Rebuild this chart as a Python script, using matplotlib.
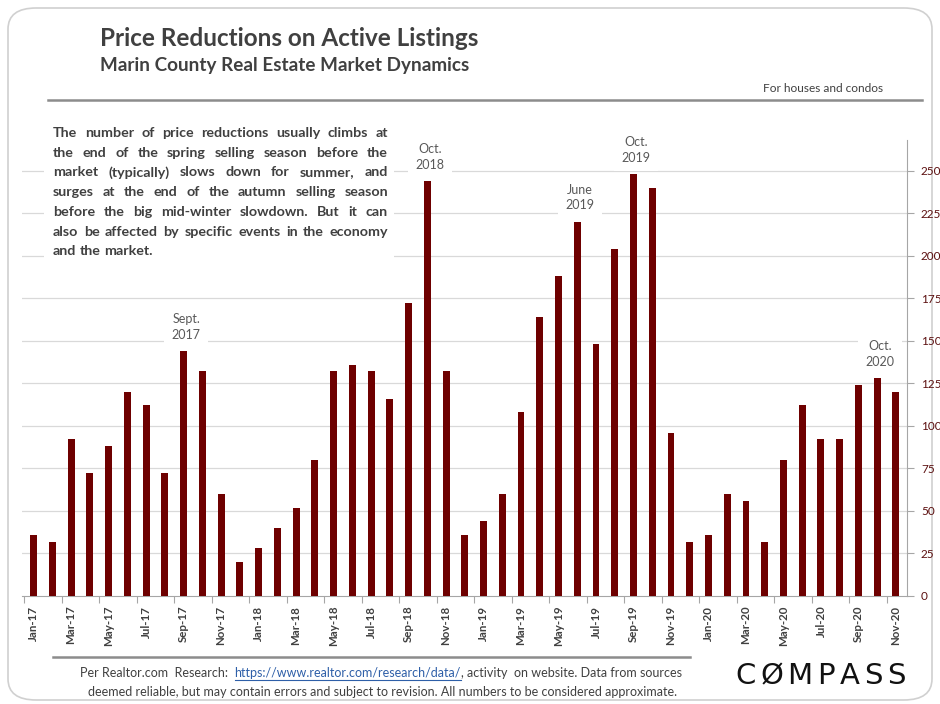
import matplotlib
matplotlib.use("Agg")
import matplotlib.pyplot as plt
from matplotlib.patches import FancyBboxPatch, Rectangle
from matplotlib.lines import Line2D

# ------------------------------------------------------------------ #
#  Data                                                                #
# ------------------------------------------------------------------ #

months = [
    "Jan-17", "Feb-17", "Mar-17", "Apr-17", "May-17", "Jun-17", "Jul-17", "Aug-17",
    "Sep-17", "Oct-17", "Nov-17", "Dec-17",
    "Jan-18", "Feb-18", "Mar-18", "Apr-18", "May-18", "Jun-18", "Jul-18", "Aug-18",
    "Sep-18", "Oct-18", "Nov-18", "Dec-18",
    "Jan-19", "Feb-19", "Mar-19", "Apr-19", "May-19", "Jun-19", "Jul-19", "Aug-19",
    "Sep-19", "Oct-19", "Nov-19", "Dec-19",
    "Jan-20", "Feb-20", "Mar-20", "Apr-20", "May-20", "Jun-20", "Jul-20", "Aug-20",
    "Sep-20", "Oct-20", "Nov-20",
]

reductions = [
    36, 32, 92, 72, 88, 120, 112, 72, 144, 132, 60, 20,
    28, 40, 52, 80, 132, 136, 132, 116, 172, 244, 132, 36,
    44, 60, 108, 164, 188, 220, 148, 204, 248, 240, 96, 32,
    36, 60, 56, 32, 80, 112, 92, 92, 124, 128, 120,
]

# callouts: (bar index, text)
callouts = [
    (8, "Sept.\n2017"),
    (21, "Oct.\n2018"),
    (29, "June\n2019"),
    (32, "Oct.\n2019"),
    (45, "Oct.\n2020"),
]

y_ticks = [0, 25, 50, 75, 100, 125, 150, 175, 200, 225, 250]

intro = [
    "The number of price reductions usually climbs at",
    "the end of the spring selling season before the",
    "market (typically) slows down for summer, and",
    "surges at the end of the autumn selling season",
    "before the big mid-winter slowdown. But it can",
    "also be affected by specific events in the economy",
    "and the market.",
]

BAR = "#6e0000"
GREY_TXT = "#404040"
GRID = "#d9d9d9"

W, H = 940, 704


def fx(x):
    return x / W


def fy(y):
    return 1 - y / H


plt.rcParams["font.family"] = ["Lato", "DejaVu Sans"]

fig = plt.figure(figsize=(W / 100, H / 100), dpi=100)
fig.patch.set_facecolor("white")

# card border
card = FancyBboxPatch((fx(8), fy(700)), fx(924), fy(8) - fy(700), boxstyle="round,pad=0,rounding_size=0.03",
                      transform=fig.transFigure, facecolor="none", edgecolor="#d0d0d0", lw=1.2, zorder=-1)
fig.patches.append(card)

# ------------------------------------------------------------------ #
#  Bars                                                                #
# ------------------------------------------------------------------ #

ax = fig.add_axes([fx(22), fy(596), fx(907) - fx(22), fy(140) - fy(596)])
ax.set_facecolor("none")
x = list(range(len(months)))
ax.bar(x, reductions, width=0.37, color=BAR, zorder=3)

ax.set_xlim(-0.62, len(months) - 1 + 0.59)
ax.set_ylim(0, 268)

ax.yaxis.tick_right()
ax.set_yticks(y_ticks)
ax.set_yticklabels([str(v) for v in y_ticks], color="#5c1010", fontsize=8.5)
ax.tick_params(axis="y", length=5, width=0.8, color="#a6a6a6", pad=5)
for v in y_ticks[1:]:
    ax.axhline(v, color=GRID, lw=0.9, zorder=1)

ax.set_xticks(x[::2])
ax.set_xticklabels(months[::2], rotation=90, fontsize=8.3, color=GREY_TXT, fontweight="bold")
ax.set_xticks([i - 0.5 for i in range(0, len(months) + 1, 2)], minor=True)
ax.tick_params(axis="x", which="major", length=0, pad=7)
ax.tick_params(axis="x", which="minor", length=5, width=0.8, color="#a6a6a6")

for side in ["top", "left"]:
    ax.spines[side].set_visible(False)
ax.spines["right"].set_color("#a6a6a6")
ax.spines["bottom"].set_color("#a6a6a6")

for i, label in callouts:
    ax.text(i + 0.15, reductions[i] + 6, label, ha="center", va="bottom", fontsize=9,
            color="#595959", linespacing=1.35, zorder=4,
            bbox=dict(boxstyle="square,pad=0.6", fc="white", ec="none"))

# ------------------------------------------------------------------ #
#  Titles and text                                                     #
# ------------------------------------------------------------------ #

fig.text(fx(100), fy(38), "Price Reductions on Active Listings", fontsize=17.5, fontweight="bold",
         color=GREY_TXT, va="center", ha="left")
fig.text(fx(100), fy(66), "Marin County Real Estate Market Dynamics", fontsize=13.6, fontweight="bold",
         color=GREY_TXT, va="center", ha="left")
fig.text(fx(883), fy(88), "For houses and condos", fontsize=8.6, color=GREY_TXT, va="center", ha="right")
fig.add_artist(Line2D([fx(48), fx(922)], [fy(100), fy(100)], transform=fig.transFigure,
                      color="#8c8c8c", lw=1.8))

# intro paragraph on a white panel, justified by hand
fig.add_artist(Rectangle((fx(44), fy(268)), fx(350), fy(124) - fy(268), transform=fig.transFigure,
                         facecolor="white", edgecolor="none", zorder=2))
fig.canvas.draw()
r = fig.canvas.get_renderer()
left, right = 53, 388
for k, line in enumerate(intro):
    yy = fy(133 + k * 19.7)
    words = line.split(" ")
    arts = [fig.text(0, yy, w, fontsize=10.3, fontweight="bold", color=GREY_TXT, va="center",
                     ha="left", zorder=3) for w in words]
    widths = [a.get_window_extent(r).width for a in arts]
    if k == len(intro) - 1:
        gap = 3.5
    else:
        gap = (right - left - sum(widths)) / (len(words) - 1)
    pos = left
    for a, wd in zip(arts, widths):
        a.set_x(fx(pos))
        pos += wd + gap

# footer
fig.add_artist(Line2D([fx(53), fx(690)], [fy(657), fy(657)], transform=fig.transFigure,
                      color="#8c8c8c", lw=1.8))
t1 = fig.text(fx(80), fy(673), "Per Realtor.com  Research:  ", fontsize=9, color=GREY_TXT, va="center", ha="left")
bb = t1.get_window_extent(r)
t2 = fig.text(bb.x1 / W, fy(673), "https://www.realtor.com/research/data/", fontsize=9, color="#2e5fa8",
              va="center", ha="left")
bb2 = t2.get_window_extent(r)
fig.add_artist(Line2D([bb2.x0 / W, bb2.x1 / W], [fy(680), fy(680)], transform=fig.transFigure,
                      color="#2e5fa8", lw=0.8))
fig.text(bb2.x1 / W, fy(673), ", activity  on website. Data from sources", fontsize=9, color=GREY_TXT,
         va="center", ha="left")
fig.text(fx(383), fy(692), "deemed reliable, but may contain errors and subject to revision. All numbers to be considered approximate.",
         fontsize=9, color=GREY_TXT, va="center", ha="center")

# logo, letter-spaced
logo = "C\u00d8MPASS"
letters = [fig.text(0, fy(676), ch, fontsize=21, color="#111111", va="center", ha="left",
                    family=["DejaVu Sans"]) for ch in logo]
lw_ = [t.get_window_extent(r).width for t in letters]
spacing = (906 - 735 - sum(lw_)) / (len(logo) - 1)
pos = 735
for t, wd in zip(letters, lw_):
    t.set_x(fx(pos))
    pos += wd + spacing

fig.savefig("out.png", dpi=100)
